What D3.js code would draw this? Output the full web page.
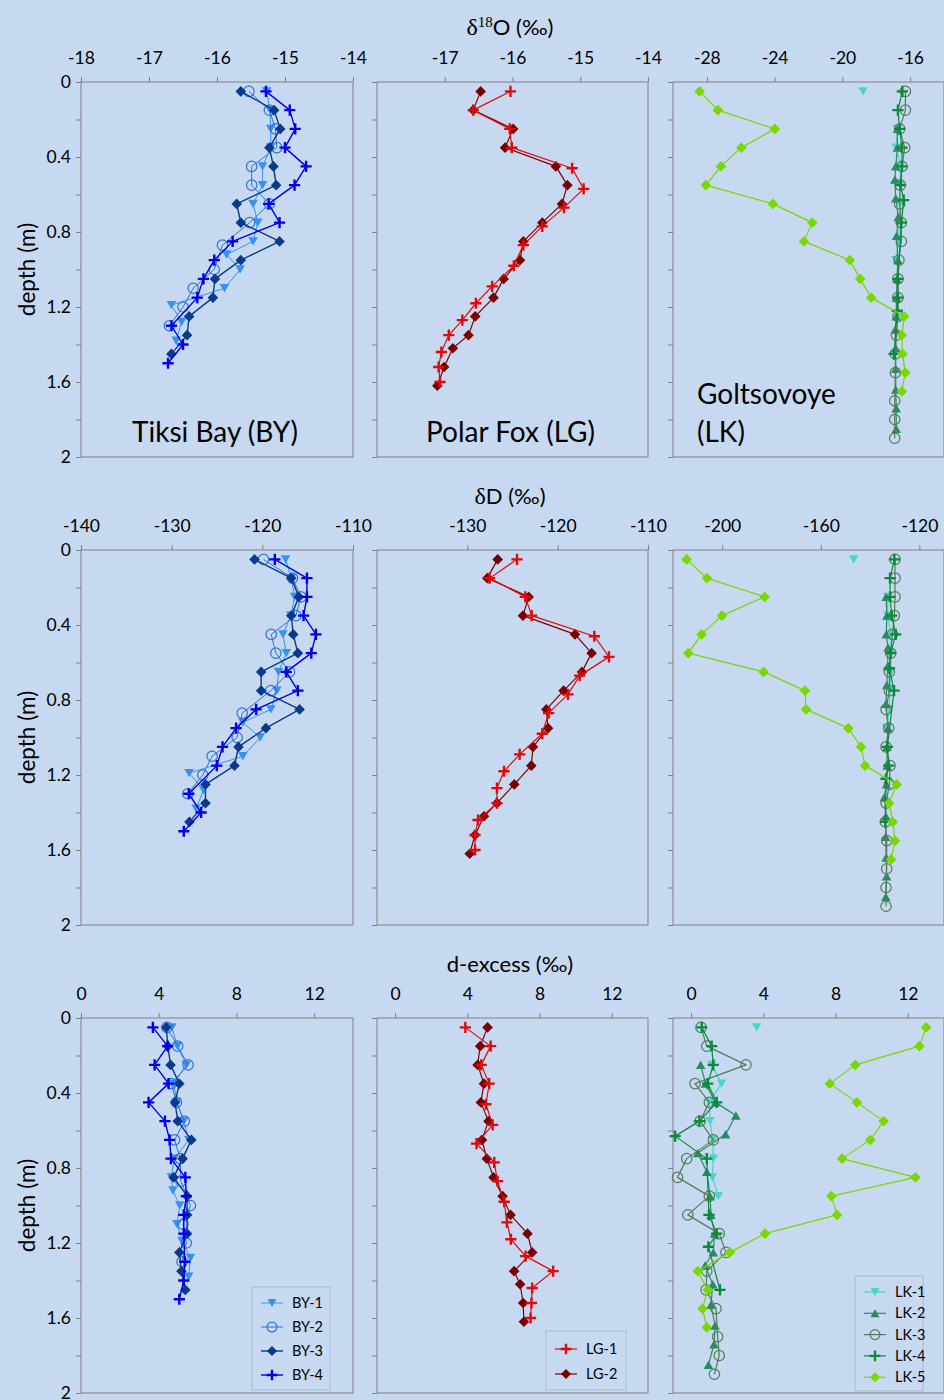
<!DOCTYPE html>
<html><head><meta charset="utf-8">
<script src="https://cdn.jsdelivr.net/npm/d3@7"></script>
<style>body{margin:0;background:#c6d9f1;} svg{display:block;font-family:Lato,'Open Sans',sans-serif;}</style>
</head><body><svg id="c" width="944" height="1400"></svg>
<script>
// ---------------- DATA ----------------
const rowVars = ["d18O", "dD", "dexcess"];
const siteKeys = ["BY", "LG", "LK"];
const siteLabels = [["Tiksi Bay (BY)"], ["Polar Fox (LG)"], ["Goltsovoye", "(LK)"]];
const yTicks = [0, 0.2, 0.4, 0.6, 0.8, 1.0, 1.2, 1.4, 1.6, 1.8, 2.0];
const yTickLabels = [0, 0.4, 0.8, 1.2, 1.6, 2];
const xDomainsD18O = [[-18, -14], [-18, -14], [-30, -14]];
const xDomainsDD = [[-140, -110], [-140, -110], [-220, -110]];
const xDomainsDex = [[0, 14], [-1, 14], [-1, 14]];
const xTicksD18O = [[-18, -17, -16, -15, -14], [-17, -16, -15, -14], [-28, -24, -20, -16]];
const xTicksDD = [[-140, -130, -120, -110], [-130, -120, -110], [-200, -160, -120]];
const xTicksDex = [[0, 4, 8, 12], [0, 4, 8, 12], [0, 4, 8, 12]];

// Tiksi Bay
const depthBY1 = [0.05,0.15,0.25,0.35,0.45,0.55,0.65,0.75,0.85,0.92,1.0,1.1,1.19,1.28,1.38];
const d18OBY1 = [-15.27,-15.22,-15.21,-15.21,-15.33,-15.33,-15.47,-15.40,-15.47,-15.86,-15.66,-15.89,-16.67,-16.52,-16.60];
const dDBY1 = [-117.44,-116.8,-116.44,-116.85,-117.73,-117.36,-118.21,-118.4,-119.06,-122.15,-120.24,-122.15,-128.08,-126.49,-127.30];
const dexBY1 = [4.68,4.96,5.42,4.77,4.94,5.29,5.55,4.8,4.65,4.73,5.08,4.94,5.2,5.63,5.54];

const depthBY2 = [0.05,0.15,0.25,0.35,0.45,0.55,0.65,0.75,0.87,1.0,1.1,1.2,1.3];
const d18OBY2 = [-15.53,-15.23,-15.14,-15.12,-15.49,-15.49,-15.23,-15.52,-15.92,-16.04,-16.35,-16.50,-16.70];
const dDBY2 = [-119.87,-116.67,-115.75,-116.30,-119.02,-118.51,-117.0,-119.06,-122.22,-122.78,-125.54,-126.57,-128.22];
const dexBY2 = [4.42,4.98,5.51,4.65,4.91,5.32,4.82,5.11,5.14,5.63,5.25,5.42,5.2];

const depthBY3 = [0.05,0.15,0.25,0.35,0.45,0.55,0.65,0.75,0.85,0.95,1.05,1.15,1.25,1.35,1.45];
const d18OBY3 = [-15.65,-15.16,-15.07,-15.23,-15.17,-15.13,-15.71,-15.65,-15.08,-15.65,-16.03,-16.06,-16.41,-16.44,-16.67];
const dDBY3 = [-120.86,-116.81,-115.97,-116.81,-116.59,-116.08,-120.13,-120.13,-115.89,-119.61,-122.63,-123.07,-126.27,-126.27,-128.04];
const dexBY3 = [4.39,4.47,4.61,5.06,4.84,4.98,5.68,5.23,4.77,5.46,5.46,5.46,5.06,5.17,5.37];

const depthBY4 = [0.05,0.15,0.25,0.35,0.45,0.55,0.65,0.75,0.85,0.95,1.05,1.15,1.3,1.4,1.5];
const d18OBY4 = [-15.28,-14.93,-14.85,-15.00,-14.69,-14.86,-15.24,-15.08,-15.77,-16.04,-16.20,-16.29,-16.67,-16.50,-16.72];
const dDBY4 = [-118.62,-115.08,-115.08,-115.45,-114.09,-114.60,-117.36,-116.08,-120.68,-122.89,-124.39,-125.02,-128.11,-126.75,-128.66];
const dexBY4 = [3.70,4.46,3.79,4.51,3.48,4.32,4.56,4.63,5.37,5.42,5.29,5.29,5.34,5.29,5.06];

// Polar Fox
const depthLG1 = [0.05,0.15,0.25,0.35,0.46,0.57,0.67,0.77,0.87,0.98,1.09,1.18,1.27,1.35,1.44,1.52,1.60];
const d18OLG1 = [-16.03,-16.58,-16.04,-16.01,-15.12,-14.95,-15.24,-15.56,-15.84,-15.98,-16.30,-16.54,-16.74,-16.94,-17.05,-17.09,-17.07];
const dDLG1 = [-124.50,-127.53,-123.58,-122.88,-115.94,-114.32,-117.56,-118.86,-121.0,-121.70,-124.21,-125.94,-126.72,-126.72,-128.82,-129.15,-129.15];
const dexLG1 = [3.89,5.29,4.77,5.21,5.03,5.40,4.51,5.49,5.67,6.04,6.19,6.41,7.22,8.75,7.59,7.55,7.50];

const depthLG2 = [0.05,0.15,0.25,0.35,0.45,0.55,0.65,0.75,0.85,0.95,1.05,1.15,1.25,1.35,1.42,1.52,1.62];
const d18OLG2 = [-16.47,-16.58,-15.99,-16.11,-15.36,-15.19,-15.27,-15.56,-15.84,-15.89,-16.13,-16.28,-16.55,-16.65,-16.88,-17.01,-17.11];
const dDLG2 = [-126.64,-127.79,-123.21,-123.84,-118.08,-116.24,-117.31,-119.34,-121.25,-121.07,-122.73,-122.92,-124.80,-126.72,-128.15,-129.15,-129.74];
const dexLG2 = [5.12,4.71,4.57,4.92,4.75,5.17,4.81,5.08,5.45,5.95,6.39,7.33,7.59,6.59,6.92,7.09,7.13];

// Goltsovoye
const depthLK1 = [0.05,0.15,0.25,0.35,0.45,0.55,0.65,0.75,0.85,0.95];
const d18OLK1 = [-18.78,null,-16.75,-16.82,-16.56,-16.58,-16.6,-16.65,-16.67,-16.85];
const dDLK1 = [-146.66,null,-132.85,-132.85,-131.5,-131.6,-131.6,-131.97,-132.17,-133.26];
const dexLK1 = [3.63,null,1.14,1.69,1.0,1.05,1.2,1.23,1.18,1.51];

const depthLK2 = [0.25,0.35,0.45,0.52,0.62,0.72,0.82,0.95,1.05,1.15,1.25,1.32,1.42,1.53,1.64,1.74,1.85];
const d18OLK2 = [-16.75,-16.75,-16.85,-16.9,-16.85,-16.7,-16.8,-16.72,-16.78,-16.8,-16.82,-16.88,-16.85,-16.85,-16.85,-16.82,-16.82];
const dDLK2 = [-133.47,-133.2,-133.44,-132.72,-132.89,-133.23,-133.53,-132.71,-133.14,-133.1,-133.33,-134.27,-133.6,-133.7,-133.47,-133.29,-133.6];
const dexLK2 = [0.53,0.8,1.36,2.48,1.91,0.37,0.87,1.05,1.1,1.3,1.23,0.77,1.2,1.1,1.33,1.27,0.96];

const depthLK3 = [0.05,0.15,0.25,0.35,0.45,0.55,0.65,0.75,0.85,0.95,1.05,1.15,1.25,1.35,1.45,1.55,1.7,1.8,1.9];
const d18OLK3 = [-16.28,-16.28,-16.62,-16.32,-16.48,-16.58,-16.62,-16.52,-16.52,-16.66,-16.72,-16.72,-16.72,-16.81,-16.87,-16.87,-16.91,-16.91,-16.91];
const dDLK3 = [-129.88,-129.88,-129.88,-130.15,-130.96,-131.63,-132.17,-132.17,-133.53,-132.44,-133.53,-131.9,-132.17,-133.53,-133.8,-133.26,-133.26,-133.53,-133.53];
const dexLK3 = [0.55,0.87,3.04,0.22,1.01,0.50,1.23,-0.24,-0.75,1.01,-0.18,1.56,1.93,0.87,0.83,1.38,1.47,1.56,1.29];

const depthLK4 = [0.05,0.15,0.25,0.35,0.45,0.55,0.63,0.75,1.05,1.15,1.22,1.45];
const d18OLK4 = [-16.46,-16.72,-16.62,-16.48,-16.48,-16.56,-16.38,-16.52,-16.72,-16.72,-16.76,-16.95];
const dDLK4 = [-130.15,-131.9,-131.9,-131.23,-129.61,-131.63,-132.17,-130.28,-132.99,-132.44,-133.53,-133.8];
const dexLK4 = [0.59,1.14,1.23,0.92,1.42,0.46,-0.88,0.87,0.99,1.42,0.96,1.6];

const depthLK5 = [0.05,0.15,0.25,0.35,0.45,0.55,0.65,0.75,0.85,0.95,1.05,1.15,1.25,1.35,1.45,1.55,1.65];
const d18OLK5 = [-28.43,-27.35,-23.99,-25.97,-27.17,-28.06,-24.10,-21.78,-22.27,-19.56,-18.95,-18.30,-16.35,-16.49,-16.45,-16.29,-16.49];
const dDLK5 = [-214.48,-206.22,-182.8,-200.13,-208.39,-213.8,-183.21,-166.42,-166.02,-148.83,-143.68,-142.06,-129.2,-132.31,-130.82,-129.88,-131.5];
const dexLK5 = [13.01,12.64,9.09,7.68,9.18,10.66,9.92,8.36,12.42,7.77,8.08,4.09,2.15,0.37,0.92,0.63,0.87];

// ---------------- SERIES ----------------
const sites = [
  [
    {name:"BY-1", depth:depthBY1, vals:[d18OBY1,dDBY1,dexBY1], color:"#3592f0", marker:"triDown", lw:1},
    {name:"BY-2", depth:depthBY2, vals:[d18OBY2,dDBY2,dexBY2], color:"#2f72d6", marker:"circle", lw:1},
    {name:"BY-3", depth:depthBY3, vals:[d18OBY3,dDBY3,dexBY3], color:"#0b3a8c", marker:"diamond", lw:1.4},
    {name:"BY-4", depth:depthBY4, vals:[d18OBY4,dDBY4,dexBY4], color:"#0000f0", marker:"plus", lw:1.4}
  ],
  [
    {name:"LG-1", depth:depthLG1, vals:[d18OLG1,dDLG1,dexLG1], color:"#e00a0a", marker:"plus", lw:1.2},
    {name:"LG-2", depth:depthLG2, vals:[d18OLG2,dDLG2,dexLG2], color:"#7a0000", marker:"diamond", lw:1.2}
  ],
  [
    {name:"LK-1", depth:depthLK1, vals:[d18OLK1,dDLK1,dexLK1], color:"#48d6c6", marker:"triDown", lw:1.2},
    {name:"LK-2", depth:depthLK2, vals:[d18OLK2,dDLK2,dexLK2], color:"#2a8a62", marker:"triUp", lw:1.2},
    {name:"LK-3", depth:depthLK3, vals:[d18OLK3,dDLK3,dexLK3], color:"#587a58", marker:"circle", lw:1.2},
    {name:"LK-4", depth:depthLK4, vals:[d18OLK4,dDLK4,dexLK4], color:"#0a8a3a", marker:"plus", lw:1.2},
    {name:"LK-5", depth:depthLK5, vals:[d18OLK5,dDLK5,dexLK5], color:"#78d800", marker:"diamond", lw:1.2}
  ]
];
const drawOrder = [[0,1,2,3],[1,0],[0,1,2,3,4]];
const xDomains = [xDomainsD18O, xDomainsDD, xDomainsDex];
const xTicks = [xTicksD18O, xTicksDD, xTicksDex];

// ---------------- LAYOUT ----------------
const BG = "#c6d9f1", FRAME = "#808080";
const SANS = "Lato,'Open Sans',sans-serif", SERIF = "'Liberation Serif','DejaVu Serif',serif";
const colX = [[81,353],[377,648],[673,944]];
const rowY = [[82,457],[550,925],[1018,1393]];
const titleBase = [35, 504, 972];
const svg = d3.select("#c");
svg.append("rect").attr("width",944).attr("height",1400).attr("fill",BG);

function drawMarker(g, type, color, size){
  const s = size || 1;
  if(type==="circle"){
    g.append("circle").attr("r",5.2*s).attr("fill","none").attr("stroke",color).attr("stroke-width",1.2);
  } else if(type==="diamond"){
    g.append("path").attr("d",`M0,${-5.3*s}L${5.3*s},0L0,${5.3*s}L${-5.3*s},0Z`).attr("fill",color);
  } else if(type==="plus"){
    g.append("path").attr("d",`M${-5.6*s},0H${5.6*s}M0,${-5.6*s}V${5.6*s}`).attr("stroke",color).attr("stroke-width",2.4).attr("fill","none");
  } else if(type==="triDown"){
    g.append("path").attr("d",`M${-4.8*s},${-4.2*s}L${4.8*s},${-4.2*s}L0,${4.2*s}Z`).attr("fill",color);
  } else if(type==="triUp"){
    g.append("path").attr("d",`M${-4.8*s},${4.2*s}L${4.8*s},${4.2*s}L0,${-4.2*s}Z`).attr("fill",color);
  }
}

for(let r=0;r<3;r++){
  for(let c=0;c<3;c++){
    const [x0,x1] = colX[c], [y0,y1] = rowY[r];
    const x = d3.scaleLinear().domain(xDomains[r][c]).range([x0,x1]);
    const y = d3.scaleLinear().domain([0,2]).range([y0,y1]);
    const g = svg.append("g");
    g.append("rect").attr("x",x0).attr("y",y0).attr("width",x1-x0).attr("height",y1-y0)
      .attr("fill","none").attr("stroke",FRAME).attr("stroke-width",1);
    const ax = g.append("g").attr("transform",`translate(0,${y0})`)
      .call(d3.axisTop(x).tickValues(xTicks[r][c]).tickSize(5).tickSizeOuter(0).tickPadding(13).tickFormat(d=>String(d)));
    ax.select(".domain").remove();
    ax.selectAll("line").attr("stroke",FRAME);
    ax.selectAll("text").attr("font-size",17.5).attr("fill","#000").attr("font-family",SANS);
    const ay = g.append("g").attr("transform",`translate(${x0},0)`)
      .call(d3.axisLeft(y).tickValues(yTicks).tickSize(5).tickSizeOuter(0).tickPadding(5)
        .tickFormat(d => (c===0 && yTickLabels.some(v=>Math.abs(v-d)<1e-9)) ? String(+d.toFixed(1)) : ""));
    ay.select(".domain").remove();
    ay.selectAll("line").attr("stroke",FRAME);
    ay.selectAll("text").attr("font-size",17.5).attr("fill","#000").attr("font-family",SANS);

    const list = sites[c];
    drawOrder[c].forEach(i=>{
      const s = list[i];
      const pts = s.depth.map((d,k)=>({d:d, v:s.vals[r][k]}));
      const line = d3.line().defined(p=>p.v!=null).x(p=>x(p.v)).y(p=>y(p.d));
      g.append("path").datum(pts).attr("d",line).attr("fill","none")
        .attr("stroke",s.color).attr("stroke-width",s.lw).attr("stroke-linejoin","round");
      pts.filter(p=>p.v!=null).forEach(p=>{
        const mg = g.append("g").attr("transform",`translate(${x(p.v)},${y(p.d)})`);
        drawMarker(mg, s.marker, s.color, 1);
      });
    });

    if(r===0){
      const lab = siteLabels[c];
      if(lab.length===1){
        g.append("text").attr("x",(x0+x1)/2-2).attr("y",442).attr("text-anchor","middle")
          .attr("font-size",28).attr("fill","#000").text(lab[0]);
      } else {
        g.append("text").attr("x",697).attr("y",404).attr("font-size",28).attr("fill","#000").text(lab[0]);
        g.append("text").attr("x",697).attr("y",442).attr("font-size",28).attr("fill","#000").text(lab[1]);
      }
    }
  }
  const cy = (rowY[r][0]+rowY[r][1])/2;
  svg.append("text").attr("transform",`translate(35,${cy}) rotate(-90)`).attr("text-anchor","middle")
    .attr("font-size",22.5).attr("fill","#000").text("depth (m)");
}

// titles
const t1 = svg.append("text").attr("x",510).attr("y",titleBase[0]).attr("text-anchor","middle").attr("font-size",22).attr("fill","#000");
t1.append("tspan").attr("font-family",SERIF).attr("font-size",24).text("δ");
t1.append("tspan").attr("font-family",SERIF).attr("font-size",15).attr("dy",-8).text("18");
t1.append("tspan").attr("dy",8).text("O (‰)");
const t2 = svg.append("text").attr("x",510).attr("y",titleBase[1]).attr("text-anchor","middle").attr("font-size",22).attr("fill","#000");
t2.append("tspan").attr("font-family",SERIF).attr("font-size",24).text("δ");
t2.append("tspan").text("D (‰)");
svg.append("text").attr("x",510).attr("y",titleBase[2]).attr("text-anchor","middle").attr("font-size",22).attr("fill","#000").text("d-excess (‰)");

// legends
const legends = [
  {site:0, box:[252,1287,78,103], rowY0:1303, step:24},
  {site:1, box:[546,1331,80,59], rowY0:1349, step:25},
  {site:2, box:[855,1276,68,115], rowY0:1292, step:21.3}
];
legends.forEach(L=>{
  const g = svg.append("g");
  g.append("rect").attr("x",L.box[0]).attr("y",L.box[1]).attr("width",L.box[2]).attr("height",L.box[3])
    .attr("fill",BG).attr("stroke","#aab8cc").attr("stroke-width",1);
  sites[L.site].forEach((s,i)=>{
    const yy = L.rowY0 + i*L.step;
    const lx = L.box[0]+9;
    g.append("line").attr("x1",lx).attr("x2",lx+22).attr("y1",yy).attr("y2",yy).attr("stroke",s.color).attr("stroke-width",s.lw);
    const mg = g.append("g").attr("transform",`translate(${lx+11},${yy})`);
    drawMarker(mg, s.marker, s.color, 0.95);
    g.append("text").attr("x",lx+31).attr("y",yy).attr("dy","0.35em").attr("font-size",14.5).attr("fill","#000").text(s.name);
  });
});
</script></body></html>
